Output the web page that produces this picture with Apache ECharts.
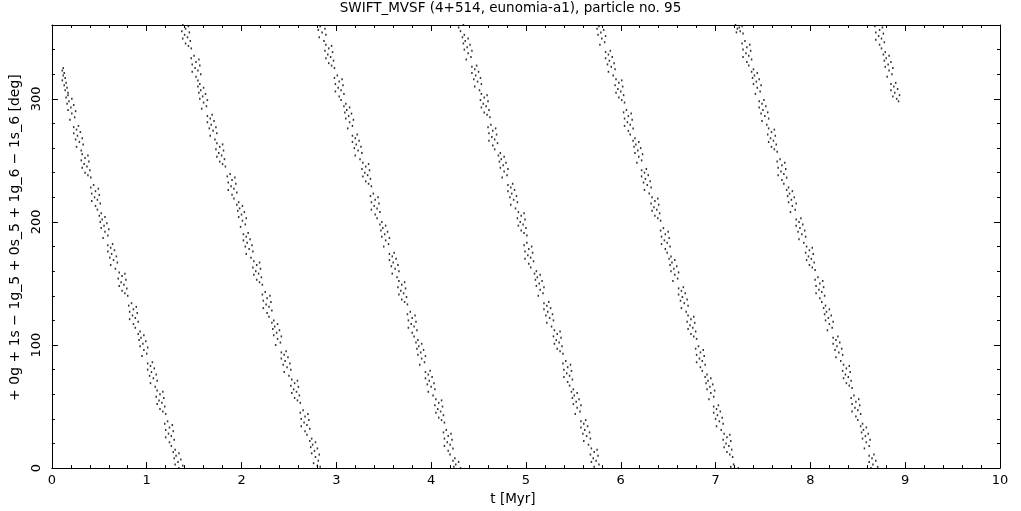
<!DOCTYPE html>
<html>
<head>
<meta charset="utf-8">
<script src="https://cdn.jsdelivr.net/npm/echarts@6/dist/echarts.min.js"></script>
<style>
html,body{margin:0;padding:0;background:#fff;}
#chart{width:1021px;height:511px;}
</style>
</head>
<body>
<div id="chart"></div>
<script>
const titleText = 'SWIFT_MVSF (4+514, eunomia-a1), particle no. 95';
const xName = 't [Myr]';
const yName = '+ 0g + 1s \u2212 1g_5 + 0s_5 + 1g_6 \u2212 1s_6 [deg]';

// [t (Myr), angle (deg)], one array per descending band
const band1 = [[0.12,325],[0.11,323],[0.13,321],[0.12,319],[0.14,317],[0.11,315],[0.15,313],[0.13,311],[0.16,309],[0.14,307],[0.17,305],
[0.17,303],[0.15,301],[0.21,300],[0.18,298],[0.16,296],[0.23,295],[0.20,293],[0.17,291],[0.25,290],[0.21,288],[0.24,285],[0.19,283],
[0.28,278],[0.23,277],[0.26,275],[0.30,273],[0.23,272],[0.27,270],[0.32,268],[0.25,267],[0.29,265],[0.33,263],[0.26,261],[0.31,258],
[0.32,255],[0.38,254],[0.35,252],[0.31,250],[0.39,249],[0.34,247],[0.37,245],[0.32,244],[0.40,242],[0.35,240],[0.38,238],[0.41,236],
[0.44,230],[0.41,228],[0.49,227],[0.46,225],[0.42,223],[0.50,222],[0.45,220],[0.48,218],[0.42,217],[0.51,215],[0.46,213],[0.48,210],
[0.52,207],[0.50,205],[0.56,204],[0.53,202],[0.51,200],[0.58,199],[0.55,197],[0.52,195],[0.60,194],[0.56,192],[0.59,189],[0.54,187],
[0.64,182],[0.59,181],[0.62,179],[0.66,177],[0.59,176],[0.63,174],[0.68,172],[0.61,171],[0.65,169],[0.69,167],[0.62,165],[0.67,162],
[0.71,159],[0.77,158],[0.74,156],[0.70,154],[0.78,153],[0.73,151],[0.76,149],[0.71,148],[0.79,146],[0.74,144],[0.77,142],[0.80,140],
[0.84,134],[0.81,132],[0.89,131],[0.86,129],[0.82,127],[0.90,126],[0.85,124],[0.88,122],[0.82,121],[0.91,119],[0.86,117],[0.88,114],
[0.93,111],[0.91,109],[0.97,108],[0.94,106],[0.92,104],[0.99,103],[0.96,101],[0.93,99],[1.01,98],[0.97,96],[1.00,93],[0.95,91],
[1.06,86],[1.01,85],[1.04,83],[1.08,81],[1.01,80],[1.05,78],[1.10,76],[1.03,75],[1.07,73],[1.11,71],[1.04,69],[1.09,66],
[1.11,63],[1.17,62],[1.14,60],[1.10,58],[1.18,57],[1.13,55],[1.16,53],[1.11,52],[1.19,50],[1.14,48],[1.17,46],[1.20,44],
[1.22,38],[1.19,36],[1.27,35],[1.24,33],[1.20,31],[1.28,30],[1.23,28],[1.26,26],[1.20,25],[1.29,23],[1.24,21],[1.26,18],
[1.30,15],[1.28,13],[1.34,12],[1.31,10],[1.29,8],[1.36,7],[1.33,5],[1.30,3],[1.38,2],[1.34,0]];

const band2 = [[1.38,360],[1.44,359],[1.41,357],[1.37,355],[1.45,354],[1.40,352],[1.43,350],[1.38,349],[1.46,347],[1.41,345],[1.44,343],[1.47,341],
[1.50,335],[1.47,333],[1.55,332],[1.52,330],[1.48,328],[1.56,327],[1.51,325],[1.54,323],[1.48,322],[1.57,320],[1.52,318],[1.54,315],
[1.56,312],[1.54,310],[1.60,309],[1.57,307],[1.55,305],[1.62,304],[1.59,302],[1.56,300],[1.64,299],[1.60,297],[1.63,294],[1.58,292],
[1.69,287],[1.64,286],[1.67,284],[1.71,282],[1.64,281],[1.68,279],[1.73,277],[1.66,276],[1.70,274],[1.74,272],[1.67,270],[1.72,267],
[1.74,264],[1.80,263],[1.77,261],[1.73,259],[1.81,258],[1.76,256],[1.79,254],[1.74,253],[1.82,251],[1.77,249],[1.80,247],[1.83,245],
[1.88,239],[1.85,237],[1.93,236],[1.90,234],[1.86,232],[1.94,231],[1.89,229],[1.92,227],[1.86,226],[1.95,224],[1.90,222],[1.92,219],
[1.97,216],[1.95,214],[2.01,213],[1.98,211],[1.96,209],[2.03,208],[2.00,206],[1.97,204],[2.05,203],[2.01,201],[2.04,198],[1.99,196],
[2.07,191],[2.02,190],[2.05,188],[2.09,186],[2.02,185],[2.06,183],[2.11,181],[2.04,180],[2.08,178],[2.12,176],[2.05,174],[2.10,171],
[2.13,168],[2.19,167],[2.16,165],[2.12,163],[2.20,162],[2.15,160],[2.18,158],[2.13,157],[2.21,155],[2.16,153],[2.19,151],[2.22,149],
[2.25,143],[2.22,141],[2.30,140],[2.27,138],[2.23,136],[2.31,135],[2.26,133],[2.29,131],[2.23,130],[2.32,128],[2.27,126],[2.29,123],
[2.34,120],[2.32,118],[2.38,117],[2.35,115],[2.33,113],[2.40,112],[2.37,110],[2.34,108],[2.42,107],[2.38,105],[2.41,102],[2.36,100],
[2.47,95],[2.42,94],[2.45,92],[2.49,90],[2.42,89],[2.46,87],[2.51,85],[2.44,84],[2.48,82],[2.52,80],[2.45,78],[2.50,75],
[2.53,72],[2.59,71],[2.56,69],[2.52,67],[2.60,66],[2.55,64],[2.58,62],[2.53,61],[2.61,59],[2.56,57],[2.59,55],[2.62,53],
[2.65,47],[2.62,45],[2.70,44],[2.67,42],[2.63,40],[2.71,39],[2.66,37],[2.69,35],[2.63,34],[2.72,32],[2.67,30],[2.69,27],
[2.74,24],[2.72,22],[2.78,21],[2.75,19],[2.73,17],[2.80,16],[2.77,14],[2.74,12],[2.82,11],[2.78,9],[2.81,6],[2.76,4],
[2.80,2],[2.83,1]];

const band3 = [[2.83,359],[2.88,357],[2.81,356],[2.85,354],[2.89,352],[2.82,350],[2.87,347],
[2.89,344],[2.95,343],[2.92,341],[2.88,339],[2.96,338],[2.91,336],[2.94,334],[2.89,333],[2.97,331],[2.92,329],[2.95,327],[2.98,325],
[3.01,319],[2.98,317],[3.06,316],[3.03,314],[2.99,312],[3.07,311],[3.02,309],[3.05,307],[2.99,306],[3.08,304],[3.03,302],[3.05,299],
[3.10,296],[3.08,294],[3.14,293],[3.11,291],[3.09,289],[3.16,288],[3.13,286],[3.10,284],[3.18,283],[3.14,281],[3.17,278],[3.12,276],
[3.22,271],[3.17,270],[3.20,268],[3.24,266],[3.17,265],[3.21,263],[3.26,261],[3.19,260],[3.23,258],[3.27,256],[3.20,254],[3.25,251],
[3.28,248],[3.34,247],[3.31,245],[3.27,243],[3.35,242],[3.30,240],[3.33,238],[3.28,237],[3.36,235],[3.31,233],[3.34,231],[3.37,229],
[3.39,223],[3.36,221],[3.44,220],[3.41,218],[3.37,216],[3.45,215],[3.40,213],[3.43,211],[3.37,210],[3.46,208],[3.41,206],[3.43,203],
[3.48,200],[3.46,198],[3.52,197],[3.49,195],[3.47,193],[3.54,192],[3.51,190],[3.48,188],[3.56,187],[3.52,185],[3.55,182],[3.50,180],
[3.61,175],[3.56,174],[3.59,172],[3.63,170],[3.56,169],[3.60,167],[3.65,165],[3.58,164],[3.62,162],[3.66,160],[3.59,158],[3.64,155],
[3.66,152],[3.72,151],[3.69,149],[3.65,147],[3.73,146],[3.68,144],[3.71,142],[3.66,141],[3.74,139],[3.69,137],[3.72,135],[3.75,133],
[3.78,127],[3.75,125],[3.83,124],[3.80,122],[3.76,120],[3.84,119],[3.79,117],[3.82,115],[3.76,114],[3.85,112],[3.80,110],[3.82,107],
[3.86,104],[3.84,102],[3.90,101],[3.87,99],[3.85,97],[3.92,96],[3.89,94],[3.86,92],[3.94,91],[3.90,89],[3.93,86],[3.88,84],
[3.99,79],[3.94,78],[3.97,76],[4.01,74],[3.94,73],[3.98,71],[4.03,69],[3.96,68],[4.00,66],[4.04,64],[3.97,62],[4.02,59],
[4.05,56],[4.11,55],[4.08,53],[4.04,51],[4.12,50],[4.07,48],[4.10,46],[4.05,45],[4.13,43],[4.08,41],[4.11,39],[4.14,37],
[4.16,31],[4.13,29],[4.21,28],[4.18,26],[4.14,24],[4.22,23],[4.17,21],[4.20,19],[4.14,18],[4.23,16],[4.18,14],[4.20,11],
[4.25,8],[4.23,6],[4.29,5],[4.26,3],[4.24,1],[4.31,0]];

const band4 = [[4.34,360],[4.29,358],[4.31,355],
[4.35,352],[4.33,350],[4.39,349],[4.36,347],[4.34,345],[4.41,344],[4.38,342],[4.35,340],[4.43,339],[4.39,337],[4.42,334],[4.37,332],
[4.48,327],[4.43,326],[4.46,324],[4.50,322],[4.43,321],[4.47,319],[4.52,317],[4.45,316],[4.49,314],[4.53,312],[4.46,310],[4.51,307],
[4.53,304],[4.59,303],[4.56,301],[4.52,299],[4.60,298],[4.55,296],[4.58,294],[4.53,293],[4.61,291],[4.56,289],[4.59,287],[4.62,285],
[4.63,279],[4.60,277],[4.68,276],[4.65,274],[4.61,272],[4.69,271],[4.64,269],[4.67,267],[4.61,266],[4.70,264],[4.65,262],[4.67,259],
[4.73,256],[4.71,254],[4.77,253],[4.74,251],[4.72,249],[4.79,248],[4.76,246],[4.73,244],[4.81,243],[4.77,241],[4.80,238],[4.75,236],
[4.86,231],[4.81,230],[4.84,228],[4.88,226],[4.81,225],[4.85,223],[4.90,221],[4.83,220],[4.87,218],[4.91,216],[4.84,214],[4.89,211],
[4.92,208],[4.98,207],[4.95,205],[4.91,203],[4.99,202],[4.94,200],[4.97,198],[4.92,197],[5.00,195],[4.95,193],[4.98,191],[5.01,189],
[5.01,183],[4.98,181],[5.06,180],[5.03,178],[4.99,176],[5.07,175],[5.02,173],[5.05,171],[4.99,170],[5.08,168],[5.03,166],[5.05,163],
[5.11,160],[5.09,158],[5.15,157],[5.12,155],[5.10,153],[5.17,152],[5.14,150],[5.11,148],[5.19,147],[5.15,145],[5.18,142],[5.13,140],
[5.24,135],[5.19,134],[5.22,132],[5.26,130],[5.19,129],[5.23,127],[5.28,125],[5.21,124],[5.25,122],[5.29,120],[5.22,118],[5.27,115],
[5.30,112],[5.36,111],[5.33,109],[5.29,107],[5.37,106],[5.32,104],[5.35,102],[5.30,101],[5.38,99],[5.33,97],[5.36,95],[5.39,93],
[5.42,87],[5.39,85],[5.47,84],[5.44,82],[5.40,80],[5.48,79],[5.43,77],[5.46,75],[5.40,74],[5.49,72],[5.44,70],[5.46,67],
[5.50,64],[5.48,62],[5.54,61],[5.51,59],[5.49,57],[5.56,56],[5.53,54],[5.50,52],[5.58,51],[5.54,49],[5.57,46],[5.52,44],
[5.63,39],[5.58,38],[5.61,36],[5.65,34],[5.58,33],[5.62,31],[5.67,29],[5.60,28],[5.64,26],[5.68,24],[5.61,22],[5.66,19],
[5.69,16],[5.75,15],[5.72,13],[5.68,11],[5.76,10],[5.71,8],[5.74,6],[5.69,5],[5.77,3],[5.72,1]];

const band5 = [[5.77,359],[5.75,357],[5.82,356],[5.79,354],[5.76,352],[5.84,351],[5.80,349],[5.83,346],[5.78,344],
[5.89,339],[5.84,338],[5.87,336],[5.91,334],[5.84,333],[5.88,331],[5.93,329],[5.86,328],[5.90,326],[5.94,324],[5.87,322],[5.92,319],
[5.95,316],[6.01,315],[5.98,313],[5.94,311],[6.02,310],[5.97,308],[6.00,306],[5.95,305],[6.03,303],[5.98,301],[6.01,299],[6.04,297],
[6.06,291],[6.03,289],[6.11,288],[6.08,286],[6.04,284],[6.12,283],[6.07,281],[6.10,279],[6.04,278],[6.13,276],[6.08,274],[6.10,271],
[6.15,268],[6.13,266],[6.19,265],[6.16,263],[6.14,261],[6.21,260],[6.18,258],[6.15,256],[6.23,255],[6.19,253],[6.22,250],[6.17,248],
[6.27,243],[6.22,242],[6.25,240],[6.29,238],[6.22,237],[6.26,235],[6.31,233],[6.24,232],[6.28,230],[6.32,228],[6.25,226],[6.30,223],
[6.33,220],[6.39,219],[6.36,217],[6.32,215],[6.40,214],[6.35,212],[6.38,210],[6.33,209],[6.41,207],[6.36,205],[6.39,203],[6.42,201],
[6.45,195],[6.42,193],[6.50,192],[6.47,190],[6.43,188],[6.51,187],[6.46,185],[6.49,183],[6.43,182],[6.52,180],[6.47,178],[6.49,175],
[6.53,172],[6.51,170],[6.57,169],[6.54,167],[6.52,165],[6.59,164],[6.56,162],[6.53,160],[6.61,159],[6.57,157],[6.60,154],[6.55,152],
[6.66,147],[6.61,146],[6.64,144],[6.68,142],[6.61,141],[6.65,139],[6.70,137],[6.63,136],[6.67,134],[6.71,132],[6.64,130],[6.69,127],
[6.71,124],[6.77,123],[6.74,121],[6.70,119],[6.78,118],[6.73,116],[6.76,114],[6.71,113],[6.79,111],[6.74,109],[6.77,107],[6.80,105],
[6.82,99],[6.79,97],[6.87,96],[6.84,94],[6.80,92],[6.88,91],[6.83,89],[6.86,87],[6.80,86],[6.89,84],[6.84,82],[6.86,79],
[6.91,76],[6.89,74],[6.95,73],[6.92,71],[6.90,69],[6.97,68],[6.94,66],[6.91,64],[6.99,63],[6.95,61],[6.98,58],[6.93,56],
[7.03,51],[6.98,50],[7.01,48],[7.05,46],[6.98,45],[7.02,43],[7.07,41],[7.00,40],[7.04,38],[7.08,36],[7.01,34],[7.06,31],
[7.09,28],[7.15,27],[7.12,25],[7.08,23],[7.16,22],[7.11,20],[7.14,18],[7.09,17],[7.17,15],[7.12,13],[7.15,11],[7.18,9],
[7.19,3],[7.16,1],[7.24,0]];

const band6 = [[7.21,360],[7.28,359],[7.25,358],[7.23,357],[7.26,355],[7.22,354],[7.29,353],
[7.31,347],[7.28,345],[7.36,344],[7.33,342],[7.29,340],[7.37,339],[7.32,337],[7.35,335],[7.29,334],[7.38,332],[7.33,330],[7.35,327],
[7.40,324],[7.38,322],[7.44,321],[7.41,319],[7.39,317],[7.46,316],[7.43,314],[7.40,312],[7.48,311],[7.44,309],[7.47,306],[7.42,304],
[7.51,299],[7.46,298],[7.49,296],[7.53,294],[7.46,293],[7.50,291],[7.55,289],[7.48,288],[7.52,286],[7.56,284],[7.49,282],[7.54,279],
[7.56,276],[7.62,275],[7.59,273],[7.55,271],[7.63,270],[7.58,268],[7.61,266],[7.56,265],[7.64,263],[7.59,261],[7.62,259],[7.65,257],
[7.68,251],[7.65,249],[7.73,248],[7.70,246],[7.66,244],[7.74,243],[7.69,241],[7.72,239],[7.66,238],[7.75,236],[7.70,234],[7.72,231],
[7.77,228],[7.75,226],[7.81,225],[7.78,223],[7.76,221],[7.83,220],[7.80,218],[7.77,216],[7.85,215],[7.81,213],[7.84,210],[7.79,208],
[7.90,203],[7.85,202],[7.88,200],[7.92,198],[7.85,197],[7.89,195],[7.94,193],[7.87,192],[7.91,190],[7.95,188],[7.88,186],[7.93,183],
[7.96,180],[8.02,179],[7.99,177],[7.95,175],[8.03,174],[7.98,172],[8.01,170],[7.96,169],[8.04,167],[7.99,165],[8.02,163],[8.05,161],
[8.08,155],[8.05,153],[8.13,152],[8.10,150],[8.06,148],[8.14,147],[8.09,145],[8.12,143],[8.06,142],[8.15,140],[8.10,138],[8.12,135],
[8.16,132],[8.14,130],[8.20,129],[8.17,127],[8.15,125],[8.22,124],[8.19,122],[8.16,120],[8.24,119],[8.20,117],[8.23,114],[8.18,112],
[8.29,107],[8.24,106],[8.27,104],[8.31,102],[8.24,101],[8.28,99],[8.33,97],[8.26,96],[8.30,94],[8.34,92],[8.27,90],[8.32,87],
[8.35,84],[8.41,83],[8.38,81],[8.34,79],[8.42,78],[8.37,76],[8.40,74],[8.35,73],[8.43,71],[8.38,69],[8.41,67],[8.44,65],
[8.46,59],[8.43,57],[8.51,56],[8.48,54],[8.44,52],[8.52,51],[8.47,49],[8.50,47],[8.44,46],[8.53,44],[8.48,42],[8.50,39],
[8.55,36],[8.53,34],[8.59,33],[8.56,31],[8.54,29],[8.61,28],[8.58,26],[8.55,24],[8.63,23],[8.59,21],[8.62,18],[8.57,16],
[8.67,11],[8.62,10],[8.65,8],[8.69,6],[8.62,5],[8.66,3],[8.71,1],[8.64,0]];

const band7 = [[8.68,359],[8.76,358],[8.73,356],[8.69,354],[8.77,353],[8.72,351],[8.75,349],[8.69,348],[8.78,346],[8.73,344],[8.75,341],
[8.79,338],[8.77,336],[8.83,335],[8.80,333],[8.78,331],[8.85,330],[8.82,328],[8.79,326],[8.87,325],[8.83,323],[8.86,320],[8.81,318],
[8.90,313],[8.85,312],[8.88,310],[8.92,308],[8.85,307],[8.89,305],[8.94,303],[8.87,302],[8.91,300],[8.93,298]];

const bands = [band1, band2, band3, band4, band5, band6, band7];

const FONT = 'DejaVu Sans';
const tickTxt = { color: '#000', fontFamily: FONT, fontSize: 13 };
const nameTxt = { color: '#000', fontFamily: FONT, fontSize: 13.5 };

function xAx(pos, showLabel) {
  return {
    type: 'value', position: pos, min: 0, max: 10, interval: 1,
    axisLine: { show: true, onZero: false, lineStyle: { color: '#000', width: 1 } },
    axisTick: { show: true, inside: true, length: 6, lineStyle: { color: '#000' } },
    minorTick: { show: true, splitNumber: 5, length: 3, lineStyle: { color: '#000' } },
    splitLine: { show: false }, minorSplitLine: { show: false },
    axisLabel: Object.assign({ show: showLabel, margin: 6 }, tickTxt),
    name: showLabel ? xName : '', nameLocation: 'middle', nameGap: 19,
    nameTextStyle: Object.assign({ padding: [0, 26, 0, 0] }, nameTxt)
  };
}
function yAx(pos, showLabel) {
  return {
    type: 'value', position: pos, min: 0, max: 360, interval: 100,
    axisLine: { show: true, onZero: false, lineStyle: { color: '#000', width: 1 } },
    axisTick: { show: true, inside: true, length: 6, lineStyle: { color: '#000' } },
    minorTick: { show: true, splitNumber: 5, length: 3, lineStyle: { color: '#000' } },
    splitLine: { show: false }, minorSplitLine: { show: false },
    axisLabel: Object.assign({ show: showLabel, rotate: 90, margin: 9, showMaxLabel: false }, tickTxt),
    name: showLabel ? yName : '', nameLocation: 'middle', nameGap: 27, nameRotate: 90,
    nameTextStyle: Object.assign({ padding: [0, 0, 0, 18] }, nameTxt, { fontSize: 14 })
  };
}

const chart = echarts.init(document.getElementById('chart'), null, { renderer: 'canvas' });
chart.setOption({
  animation: false,
  backgroundColor: '#fff',
  title: {
    text: titleText, left: 'center', top: 1, padding: 0,
    textStyle: { color: '#000', fontFamily: FONT, fontSize: 13.5, fontWeight: 'normal' }
  },
  grid: { left: 51, right: 21, top: 25, bottom: 37, containLabel: false },
  xAxis: [xAx('bottom', true), xAx('top', false)],
  yAxis: [yAx('left', true), yAx('right', false)],
  series: bands.map(function (b) {
    return {
      type: 'scatter', xAxisIndex: 0, yAxisIndex: 0, data: b,
      symbol: 'rect', symbolSize: [1.5, 2], silent: true,
      itemStyle: { color: '#000' }
    };
  })
});
</script>
</body>
</html>
